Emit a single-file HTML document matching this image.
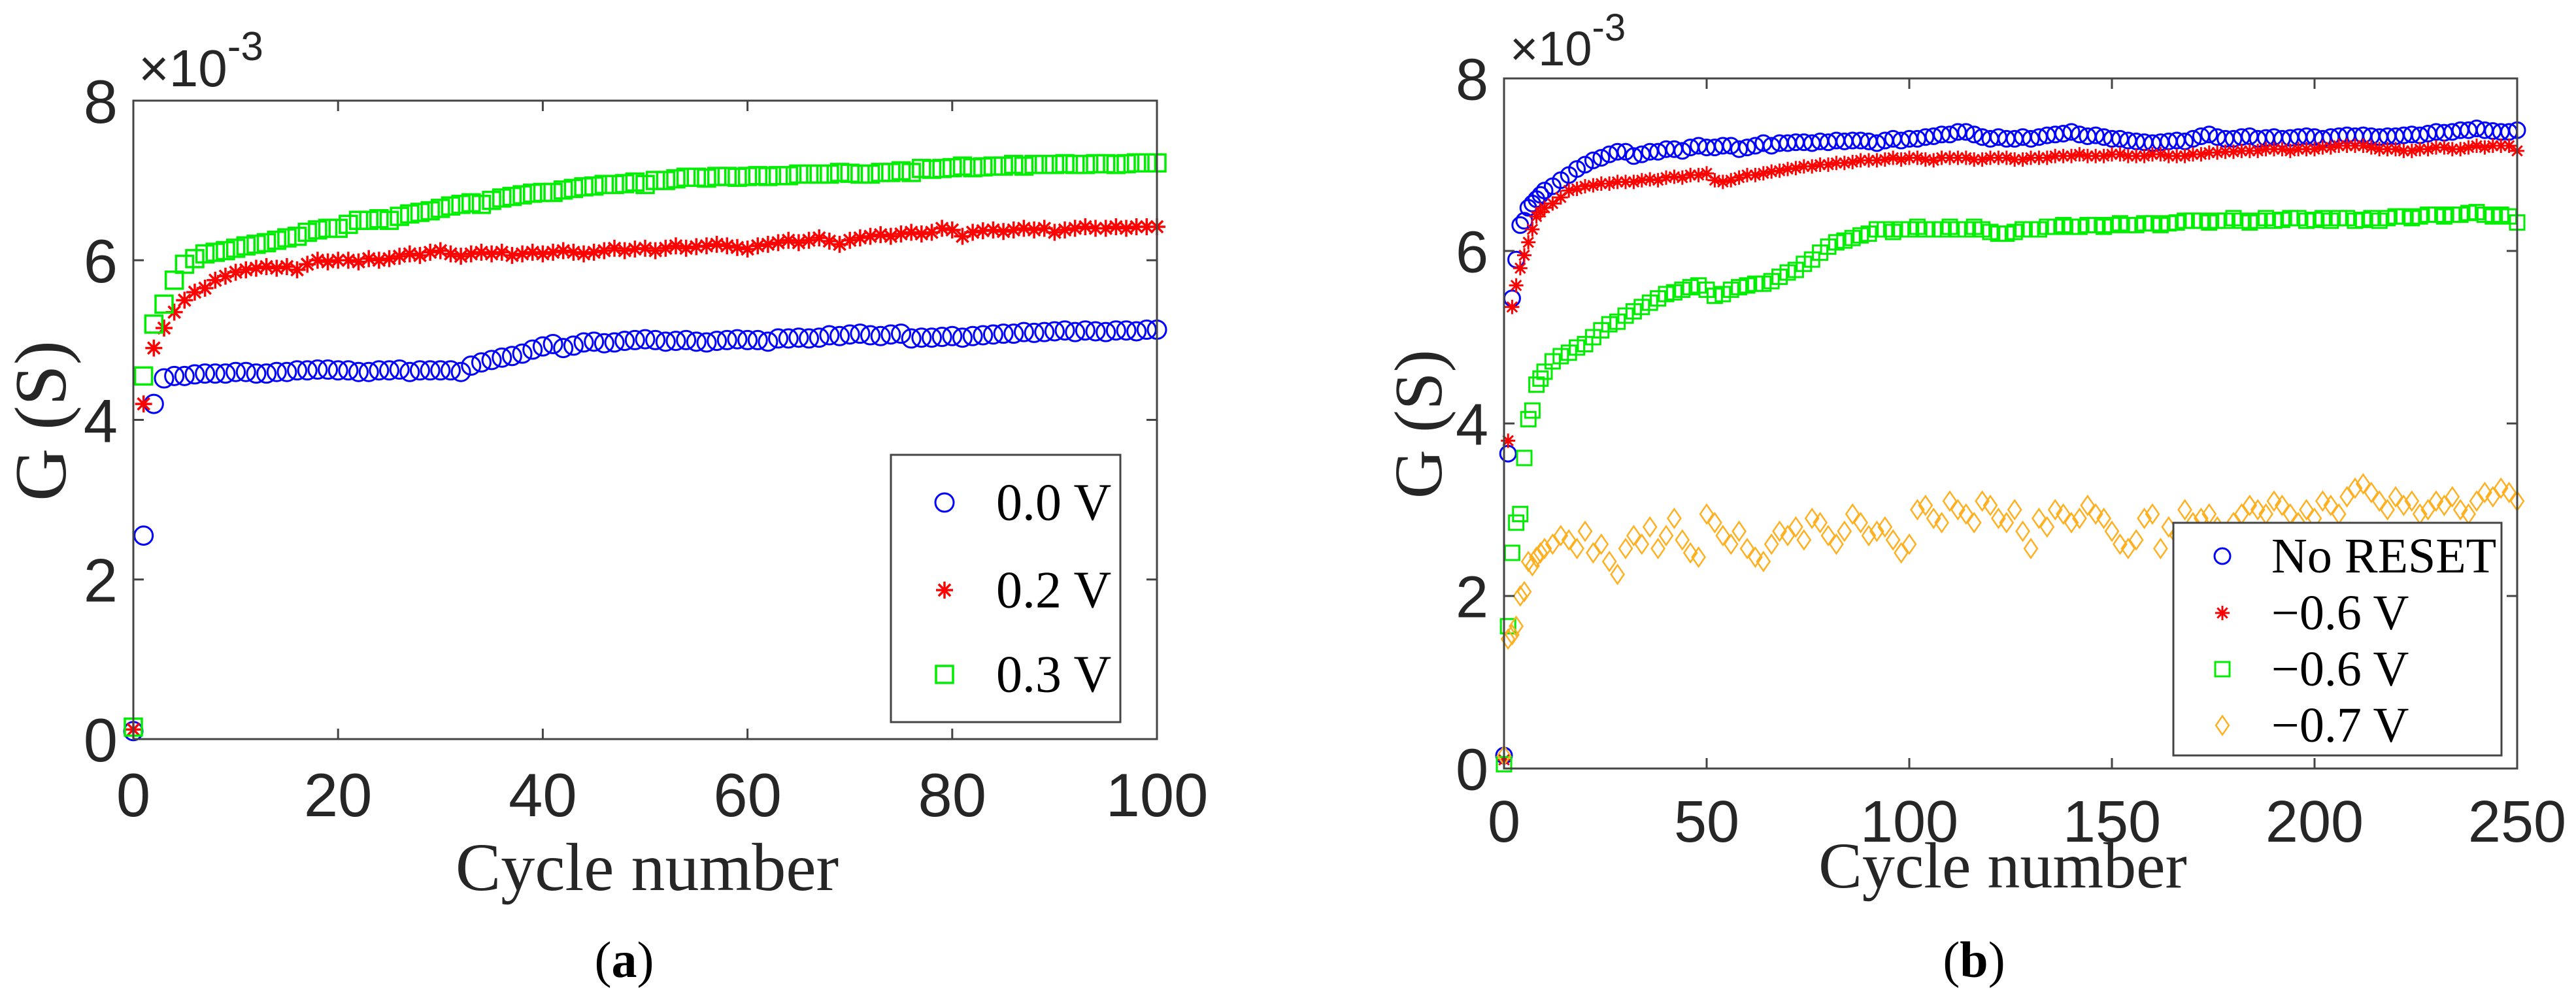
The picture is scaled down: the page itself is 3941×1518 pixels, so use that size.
<!DOCTYPE html>
<html><head><meta charset="utf-8"><style>
html,body{margin:0;padding:0;background:#fff}
svg{display:block}
</style></head><body>
<svg id="fig" width="3941" height="1518" viewBox="0 0 3941 1518" xmlns="http://www.w3.org/2000/svg">
<rect width="3941" height="1518" fill="#fff"/>
<g id="pa"></g>
<g id="pb"></g>
</svg>
<script>
// ---------- Panel (a) data (G in units of 1e-3 S) ----------
const aXTicks = [0,20,40,60,80,100];
const aYTicks = [0,2,4,6,8];
const aLabels = ['0.0 V','0.2 V','0.3 V'];
const a00 = [0.10,2.55,4.20,4.52,4.55,4.55,4.57,4.58,4.58,4.58,4.60,4.60,4.58,4.58,4.60,4.60,4.62,4.62,4.63,4.63,4.62,4.62,4.60,4.60,4.62,4.62,4.63,4.60,4.62,4.62,4.62,4.62,4.60,4.68,4.72,4.75,4.78,4.80,4.83,4.88,4.92,4.95,4.90,4.93,4.97,4.98,4.96,4.97,4.99,5.00,5.01,5.00,4.98,4.99,5.00,4.98,4.97,4.99,5.00,5.01,5.00,5.00,4.98,5.02,5.02,5.03,5.02,5.03,5.06,5.05,5.07,5.08,5.06,5.05,5.07,5.08,5.02,5.03,5.03,5.04,5.05,5.03,5.05,5.06,5.07,5.08,5.08,5.10,5.09,5.10,5.11,5.12,5.10,5.12,5.11,5.10,5.12,5.12,5.11,5.13,5.13];
const a02 = [0.12,4.20,4.90,5.15,5.35,5.50,5.60,5.65,5.75,5.80,5.85,5.88,5.90,5.92,5.90,5.92,5.88,5.95,6.00,5.98,6.00,6.00,5.98,6.02,6.00,6.02,6.05,6.08,6.06,6.10,6.12,6.08,6.05,6.08,6.10,6.08,6.10,6.06,6.08,6.10,6.08,6.10,6.12,6.10,6.08,6.10,6.12,6.15,6.12,6.14,6.15,6.12,6.15,6.18,6.15,6.17,6.18,6.20,6.18,6.16,6.14,6.18,6.20,6.22,6.25,6.22,6.25,6.28,6.24,6.20,6.25,6.28,6.30,6.32,6.30,6.33,6.35,6.33,6.35,6.40,6.38,6.30,6.35,6.37,6.38,6.36,6.38,6.40,6.38,6.40,6.35,6.38,6.40,6.42,6.40,6.40,6.42,6.40,6.42,6.42,6.42];
const a03 = [0.15,4.55,5.20,5.45,5.75,5.95,6.02,6.08,6.10,6.12,6.15,6.18,6.20,6.22,6.25,6.28,6.30,6.35,6.38,6.40,6.40,6.45,6.50,6.50,6.52,6.50,6.55,6.58,6.60,6.62,6.65,6.68,6.70,6.72,6.70,6.75,6.78,6.80,6.82,6.84,6.85,6.85,6.88,6.90,6.92,6.93,6.95,6.95,6.96,6.98,6.95,7.00,7.00,7.02,7.04,7.04,7.03,7.05,7.05,7.04,7.05,7.06,7.05,7.06,7.06,7.08,7.08,7.08,7.08,7.10,7.09,7.08,7.08,7.10,7.10,7.12,7.10,7.15,7.14,7.15,7.16,7.18,7.16,7.17,7.18,7.18,7.20,7.18,7.20,7.20,7.20,7.21,7.20,7.20,7.21,7.21,7.20,7.21,7.22,7.22,7.22];

// ---------- Panel (b) data ----------
const bXTicks = [0,50,100,150,200,250];
const bYTicks = [0,2,4,6,8];
const bLabels = ['No RESET','\u22120.6 V','\u22120.6 V','\u22120.7 V'];
const bCycles = [0,1,2,3,4,5,6,7,8,9,10,12,14,16,18,20,22,24,26,28,30,32,34,36,38,40,42,44,46,48,50,52,54,56,58,60,62,64,66,68,70,72,74,76,78,80,82,84,86,88,90,92,94,96,98,100,102,104,106,108,110,112,114,116,118,120,122,124,126,128,130,132,134,136,138,140,142,144,146,148,150,152,154,156,158,160,162,164,166,168,170,172,174,176,178,180,182,184,186,188,190,192,194,196,198,200,202,204,206,208,210,212,214,216,218,220,222,224,226,228,230,232,234,236,238,240,242,244,246,248,250];
const bNoReset = [0.15,3.65,5.45,5.90,6.30,6.35,6.50,6.55,6.60,6.65,6.70,
6.75,6.82,6.88,6.95,7.00,7.05,7.08,7.12,7.15,7.15,
7.10,7.12,7.15,7.15,7.18,7.18,7.16,7.20,7.22,7.20,
7.20,7.22,7.22,7.18,7.20,7.22,7.25,7.22,7.25,7.25,
7.26,7.26,7.25,7.27,7.26,7.28,7.27,7.28,7.28,7.27,
7.25,7.28,7.30,7.28,7.30,7.30,7.32,7.33,7.35,7.35,
7.38,7.38,7.35,7.32,7.30,7.32,7.30,7.30,7.32,7.30,
7.32,7.34,7.35,7.36,7.38,7.35,7.33,7.34,7.32,7.30,
7.30,7.28,7.27,7.26,7.25,7.26,7.27,7.28,7.27,7.30,
7.33,7.35,7.32,7.30,7.30,7.32,7.33,7.30,7.31,7.32,
7.30,7.31,7.32,7.33,7.32,7.30,7.32,7.33,7.34,7.33,
7.34,7.33,7.32,7.33,7.33,7.34,7.35,7.34,7.36,7.38,
7.37,7.38,7.40,7.40,7.42,7.40,7.39,7.38,7.38,7.40];
const bReset06a = [0.10,3.80,5.35,5.60,5.80,5.95,6.10,6.25,6.40,6.45,6.50,
6.55,6.62,6.70,6.72,6.75,6.76,6.78,6.78,6.80,6.80,
6.80,6.82,6.83,6.82,6.85,6.86,6.85,6.88,6.88,6.90,
6.82,6.80,6.82,6.85,6.88,6.88,6.90,6.92,6.93,6.95,
6.96,6.98,6.98,7.00,7.00,7.02,7.02,7.03,7.05,7.05,
7.05,7.06,7.08,7.06,7.08,7.08,7.06,7.05,7.08,7.08,
7.08,7.08,7.06,7.06,7.08,7.08,7.08,7.06,7.06,7.08,
7.08,7.08,7.10,7.10,7.10,7.12,7.10,7.10,7.10,7.12,
7.12,7.10,7.10,7.10,7.12,7.12,7.10,7.10,7.10,7.12,
7.12,7.14,7.14,7.15,7.15,7.16,7.16,7.16,7.18,7.18,
7.18,7.16,7.18,7.18,7.18,7.20,7.20,7.22,7.22,7.22,
7.22,7.20,7.18,7.18,7.18,7.16,7.16,7.18,7.18,7.20,
7.20,7.18,7.18,7.20,7.22,7.20,7.22,7.22,7.22,7.16];
const bReset06b = [0.05,1.65,2.50,2.85,2.95,3.60,4.05,4.15,4.45,4.52,4.60,
4.72,4.78,4.82,4.88,4.92,5.00,5.08,5.15,5.18,5.25,
5.30,5.35,5.40,5.45,5.50,5.52,5.55,5.58,5.60,5.55,
5.48,5.50,5.55,5.58,5.60,5.62,5.62,5.65,5.70,5.75,
5.78,5.85,5.90,5.98,6.05,6.10,6.12,6.15,6.18,6.20,
6.25,6.25,6.22,6.25,6.25,6.28,6.25,6.25,6.25,6.28,
6.25,6.25,6.28,6.25,6.22,6.20,6.20,6.22,6.25,6.25,
6.25,6.28,6.28,6.30,6.28,6.28,6.30,6.30,6.28,6.30,
6.32,6.30,6.30,6.32,6.32,6.30,6.32,6.33,6.35,6.35,
6.35,6.33,6.35,6.35,6.38,6.35,6.33,6.35,6.38,6.35,
6.36,6.38,6.38,6.35,6.36,6.38,6.35,6.38,6.38,6.35,
6.36,6.38,6.35,6.38,6.40,6.40,6.38,6.40,6.42,6.42,
6.40,6.42,6.42,6.44,6.45,6.42,6.40,6.42,6.40,6.33];
const bReset07 = [0.15,1.50,1.55,1.65,2.00,2.05,2.40,2.35,2.45,2.50,2.55,
2.60,2.70,2.65,2.55,2.75,2.50,2.60,2.40,2.25,2.55,
2.70,2.60,2.80,2.55,2.70,2.90,2.65,2.50,2.45,2.95,
2.85,2.70,2.60,2.75,2.55,2.45,2.40,2.60,2.75,2.70,
2.80,2.65,2.90,2.85,2.70,2.60,2.75,2.95,2.85,2.70,
2.75,2.80,2.65,2.50,2.60,3.00,3.05,2.90,2.85,3.10,
3.00,2.95,2.85,3.10,3.05,2.90,2.85,3.00,2.75,2.55,
2.90,2.80,3.00,2.95,2.85,2.90,3.05,2.95,2.90,2.75,
2.60,2.55,2.65,2.90,2.95,2.55,2.80,2.70,3.00,2.85,
2.90,2.95,2.80,2.70,2.85,2.95,3.05,3.00,2.95,3.10,
3.05,2.95,2.85,3.00,2.90,3.10,3.05,2.95,3.15,3.25,
3.30,3.20,3.10,3.00,3.15,3.05,3.10,2.95,3.00,3.10,
3.05,3.15,3.00,2.95,3.10,3.20,3.15,3.25,3.20,3.10];

const NS='http://www.w3.org/2000/svg';
function mk(tag, attrs, parent){const e=document.createElementNS(NS,tag);for(const k in attrs)e.setAttribute(k,attrs[k]);parent.appendChild(e);return e;}

function marker(g, type, x, y, s, color, sw){
  let e;
  if(type==='circle'){ e=mk('circle',{cx:x,cy:y,r:s,fill:'none',stroke:color,'stroke-width':sw},g); }
  else if(type==='square'){ e=mk('rect',{x:x-s,y:y-s,width:2*s,height:2*s,fill:'none',stroke:color,'stroke-width':sw},g); }
  else if(type==='diamond'){ e=mk('polygon',{points:`${x},${y-s*1.3} ${x+s*0.9},${y} ${x},${y+s*1.3} ${x-s*0.9},${y}`,fill:'none',stroke:color,'stroke-width':sw},g); }
  else { const d=`M${x-s},${y}L${x+s},${y}M${x},${y-s}L${x},${y+s}M${x-s*0.7},${y-s*0.7}L${x+s*0.7},${y+s*0.7}M${x-s*0.7},${y+s*0.7}L${x+s*0.7},${y-s*0.7}`;
    e=mk('path',{d:d,fill:'none',stroke:color,'stroke-width':sw},g); }
  return e;
}

function drawPanel(root, cfg){
  const {L,R,T,B,xmax,xTicks,yTicks,tickFont,tickDy} = cfg;
  const sx = v => L + (R-L)*v/xmax;
  const sy = v => B - (B-T)*v/8;
  // series
  cfg.series.forEach(s=>{
    const g=mk('g',{},root);
    
    
    s.vals.forEach((v,i)=>{
      const m=marker(g, s.type, sx(s.xs[i]), sy(v), s.size, s.color, s.sw);
      
      
    });
  });
  // axes box
  const ax=mk('rect',{x:L,y:T,width:R-L,height:B-T,fill:'none',stroke:'#444','stroke-width':3},root);
  
  
  const tg=mk('g',{stroke:'#444','stroke-width':3},root);
  xTicks.forEach(t=>{ const x=sx(t);
    mk('line',{x1:x,y1:B,x2:x,y2:B-16},tg); mk('line',{x1:x,y1:T,x2:x,y2:T+16},tg);
    const tx=mk('text',{x:x,y:B+tickDy,'font-family':'Liberation Sans, sans-serif','font-size':tickFont,fill:'#262626','text-anchor':'middle'},root);
    tx.textContent=t;
    
    
  });
  yTicks.forEach(t=>{ const y=sy(t);
    mk('line',{x1:L,y1:y,x2:L+16,y2:y},tg); mk('line',{x1:R,y1:y,x2:R-16,y2:y},tg);
    const tx=mk('text',{x:L-24,y:y+tickFont*0.36,'font-family':'Liberation Sans, sans-serif','font-size':tickFont,fill:'#262626','text-anchor':'end'},root);
    tx.textContent=t;
    
    
  });
  // legend
  const lg=cfg.legend;
  const lgG=mk('g',{},root);
  
  
  mk('rect',{x:lg.x,y:lg.y,width:lg.w,height:lg.h,fill:'#fff',stroke:'#444','stroke-width':3},lgG);
  cfg.series.forEach((s,i)=>{
    const ey=lg.rows[i];
    const eg=mk('g',{},lgG);
    
    
    marker(eg, s.type, lg.mx, ey, s.size, s.color, s.sw);
    const tx=mk('text',{x:lg.tx,y:ey+lg.font*0.33,'font-family':'Liberation Serif, serif','font-size':lg.font,fill:'#000'},eg);
    tx.textContent=s.label;
  });
}

drawPanel(document.getElementById('pa'), {
  L:204,R:1770,T:154,B:1131,xmax:100,xTicks:aXTicks,yTicks:aYTicks,tickFont:94,tickDy:118,
  series:[
    {name:'series-0-0V',label:aLabels[0],type:'circle',color:'#0000ff',size:14,sw:3,vals:a00,xs:a00.map((v,i)=>i)},
    {name:'series-0-2V',label:aLabels[1],type:'star',color:'#ff0000',size:13,sw:3.5,vals:a02,xs:a02.map((v,i)=>i)},
    {name:'series-0-3V',label:aLabels[2],type:'square',color:'#00ee00',size:13,sw:3.5,vals:a03,xs:a03.map((v,i)=>i)}
  ],
  legend:{x:1363,y:696,w:351,h:409,rows:[769,903,1032],mx:1445,tx:1524,font:80}
});

drawPanel(document.getElementById('pb'), {
  L:2301,R:3851,T:120,B:1176,xmax:250,xTicks:bXTicks,yTicks:bYTicks,tickFont:90,tickDy:112,
  series:[
    {name:'series-no-reset',label:bLabels[0],type:'circle',color:'#0000ff',size:12,sw:3,vals:bNoReset,xs:bCycles},
    {name:'series-minus-0-6V-a',label:bLabels[1],type:'star',color:'#ff0000',size:11,sw:3,vals:bReset06a,xs:bCycles},
    {name:'series-minus-0-6V-b',label:bLabels[2],type:'square',color:'#00ee00',size:11,sw:3,vals:bReset06b,xs:bCycles},
    {name:'series-minus-0-7V',label:bLabels[3],type:'diamond',color:'#ffb020',size:11,sw:2.5,vals:bReset07,xs:bCycles}
  ],
  legend:{x:3325,y:800,w:502,h:356,rows:[851,938,1024,1110],mx:3400,tx:3475,font:76}
});
</script>
<!-- static text -->
<svg width="0" height="0" style="position:absolute"></svg>
<div style="position:absolute;left:0;top:0;width:3941px;height:1518px;pointer-events:none">
<svg width="3941" height="1518" xmlns="http://www.w3.org/2000/svg">
<g>
<text x="212" y="132" font-family="Liberation Sans, sans-serif" font-size="80" fill="#262626">×10<tspan dy="-40" font-size="62">-3</tspan></text>
<text transform="translate(100,644) rotate(-90)" text-anchor="middle" font-family="Liberation Serif, serif" font-size="112" fill="#262626">G (S)</text>
<text x="990" y="1362" text-anchor="middle" font-family="Liberation Serif, serif" font-size="104" fill="#262626">Cycle number</text>
<text x="955" y="1495" text-anchor="middle" font-family="Liberation Serif, serif" font-size="78" fill="#000">(<tspan font-weight="bold">a</tspan>)</text>
</g>
<g>
<text x="2310" y="100" font-family="Liberation Sans, sans-serif" font-size="74" fill="#262626">×10<tspan dy="-38" font-size="58">-3</tspan></text>
<text transform="translate(2205,649) rotate(-90)" text-anchor="middle" font-family="Liberation Serif, serif" font-size="104" fill="#262626">G (S)</text>
<text x="3064" y="1358" text-anchor="middle" font-family="Liberation Serif, serif" font-size="100" fill="#262626">Cycle number</text>
<text x="3020" y="1495" text-anchor="middle" font-family="Liberation Serif, serif" font-size="78" fill="#000">(<tspan font-weight="bold">b</tspan>)</text>
</g>
</svg>
</div>
</body></html>
